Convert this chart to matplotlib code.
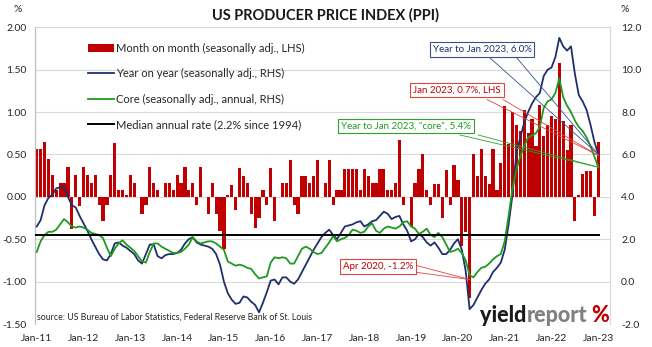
import numpy as np
import matplotlib
matplotlib.use("Agg")
import matplotlib.pyplot as plt
from matplotlib.patches import Patch
from matplotlib.lines import Line2D

plt.rcParams['font.family'] = ['Lato', 'DejaVu Sans']

# monthly data, Jan 2011 .. Jan 2023
mom = [0.57, 0.56, 0.65, 0.45, 0.26, 0.08, 0.16, 0.16, 0.35, -0.38, 0.26, -0.11,
       0.35, 0.26, 0.16, 0.26, -0.10, -0.29, -0.10, 0.26, 0.64, 0.08, 0.08, 0.02,
       0.26, 0.16, 0.00, -0.20, -0.10, 0.35, 0.16, 0.08, 0.00, 0.16, 0.16, 0.08,
       0.26, 0.16, 0.35, 0.08, 0.16, -0.10, 0.35, 0.00, -0.20, 0.16, -0.20, -0.40,
       -0.62, 0.02, 0.14, -0.15, 0.34, 0.25, 0.16, -0.20, -0.37, -0.25, 0.08, -0.10,
       0.34, -0.28, 0.00, 0.16, 0.16, 0.44, -0.10, -0.20, 0.25, 0.25, 0.16, 0.25,
       0.44, 0.00, 0.16, 0.44, -0.10, 0.08, 0.08, 0.33, 0.33, 0.33, 0.33, 0.08,
       0.33, 0.25, 0.16, 0.16, 0.33, 0.33, 0.08, 0.08, 0.16, 0.67, -0.10, 0.00,
       -0.35, 0.16, 0.33, 0.50, 0.08, -0.10, 0.15, 0.15, -0.25, 0.32, -0.10, 0.38,
       0.20, -0.58, -0.42, -1.19, 0.50, 0.24, 0.57, 0.24, 0.15, 0.57, 0.08, 0.40,
       1.07, 0.62, 1.00, 0.85, 0.78, 1.02, 0.75, 0.92, 0.60, 1.08, 0.72, 0.85,
       0.95, 0.92, 1.58, 0.90, 0.55, 0.85, -0.29, 0.02, 0.27, 0.30, 0.31, -0.23,
       0.65]

yoy = [2.6, 2.9, 3.6, 3.95, 4.1, 4.4, 4.45, 4.45, 4.0, 3.6, 3.5, 3.1,
       2.75, 2.4, 2.0, 1.65, 1.3, 1.05, 1.0, 1.3, 1.8, 1.85, 1.7, 1.6,
       1.45, 1.3, 1.0, 0.85, 1.3, 1.75, 1.75, 1.2, 1.1, 1.25, 1.3, 1.3,
       1.35, 1.5, 1.8, 2.0, 2.1, 1.85, 1.75, 1.7, 1.65, 1.55, 1.3, 0.8,
       0.0, -0.55, -0.85, -1.05, -1.0, -0.7, -0.75, -0.95, -1.1, -1.45, -1.0, -0.5,
       0.05, 0.1, -0.13, 0.2, 0.2, 0.0, -0.1, 0.1, 0.45, 0.8, 1.15, 1.5,
       1.8, 2.1, 2.3, 2.45, 2.2, 2.0, 2.3, 2.6, 2.65, 2.7, 2.8, 2.85,
       2.6, 2.7, 2.85, 2.9, 3.1, 3.3, 3.2, 2.95, 3.05, 3.1, 2.7, 2.4,
       1.9, 2.0, 2.25, 2.1, 1.85, 1.7, 1.85, 1.6, 1.3, 1.3, 1.5, 1.8,
       2.0, 1.5, 0.5, -1.3, -1.1, -0.75, -0.4, -0.1, 0.1, 0.45, 0.65, 0.9,
       1.5, 2.7, 4.1, 6.1, 6.8, 7.5, 8.0, 8.4, 8.7, 8.9, 9.7, 10.0,
       10.1, 10.6, 11.5, 11.1, 10.9, 11.1, 9.8, 8.8, 8.5, 8.1, 7.4, 6.6,
       6.0]

core = [1.4, 1.9, 2.2, 2.35, 2.35, 2.45, 2.7, 2.95, 2.8, 2.6, 2.55, 2.6,
        2.55, 2.45, 2.3, 2.25, 2.2, 2.05, 1.6, 1.2, 1.55, 1.8, 1.95, 1.75,
        1.6, 1.45, 1.2, 0.95, 0.9, 1.4, 1.8, 1.8, 1.65, 1.55, 1.45, 1.35,
        1.35, 1.4, 1.55, 1.75, 2.1, 1.9, 1.8, 1.85, 1.9, 1.9, 1.8, 1.65,
        1.5, 0.95, 0.85, 0.75, 0.8, 0.75, 0.65, 0.6, 0.35, 0.15, 0.2, 0.25,
        0.9, 1.15, 1.1, 1.15, 1.1, 0.85, 0.85, 1.2, 1.55, 1.65, 1.55, 1.4,
        1.3, 1.35, 1.6, 1.85, 2.15, 1.9, 2.0, 2.06, 2.2, 2.45, 2.4, 2.3,
        2.35, 2.6, 2.75, 2.4, 2.3, 2.5, 2.6, 2.55, 2.5, 2.6, 2.8, 2.85,
        2.6, 2.5, 2.25, 2.35, 2.5, 2.2, 2.1, 2.3, 2.1, 1.75, 1.4, 1.45,
        1.55, 1.35, 1.0, 0.3, 0.2, 0.45, 0.65, 0.7, 0.85, 1.05, 1.2, 1.3,
        1.9, 3.1, 4.4, 5.3, 5.9, 6.4, 6.8, 6.9, 7.0, 7.3, 8.2, 8.5,
        8.6, 8.9, 9.6, 8.7, 8.3, 8.0, 7.6, 7.3, 7.1, 6.8, 6.4, 5.9,
        5.4]

median_rate = 2.2
years = ['Jan-11', 'Jan-12', 'Jan-13', 'Jan-14', 'Jan-15', 'Jan-16', 'Jan-17',
         'Jan-18', 'Jan-19', 'Jan-20', 'Jan-21', 'Jan-22', 'Jan-23']

RED = '#C00000'
NAVY = '#1F2F6B'
GREEN = '#1E9A1E'
TXT = '#262626'

x = np.arange(len(mom))

fig = plt.figure(figsize=(6.52, 3.47), dpi=100)
ax = fig.add_axes([35/652, 1-324/347, 575/652, (324-27.3)/347])
ax2 = ax.twinx()

ax.bar(x, mom, width=0.82, color=RED, zorder=2)
ax.set_xlim(-0.44, 147.0)
ax.set_ylim(-1.5, 2.0)
ax.set_yticks(np.arange(-1.5, 2.01, 0.5))
ax.set_yticklabels(['%.2f' % v for v in np.arange(-1.5, 2.01, 0.5)])
ax.yaxis.grid(True, color='#D9D9D9', lw=0.8)
ax.set_axisbelow(True)
ax.set_xticks(x[::12])
ax.set_xticklabels(years)

ax2.plot(x, yoy, color=NAVY, lw=1.3, zorder=3)
ax2.plot(x, core, color=GREEN, lw=1.3, zorder=3)
ax2.hlines(median_rate, x[0] - 0.4, x[-1] + 0.4, color='black', lw=1.4, zorder=3)
ax2.set_ylim(-2, 12)
ax2.set_yticks(np.arange(-2, 12.1, 2))
ax2.set_yticklabels(['%.1f' % v for v in np.arange(-2, 12.1, 2)])

for a in (ax, ax2):
    a.tick_params(length=0, labelsize=7.5, colors=TXT)
    a.spines['top'].set_visible(False)
    a.spines['bottom'].set_visible(False)
    a.spines['left'].set_color('#BFBFBF')
    a.spines['right'].set_color('#D9D9D9')
ax.tick_params(axis='y', pad=6)
ax.tick_params(axis='x', pad=7)
ax2.tick_params(axis='y', pad=8)

fig.text(18/652, 1-10/347, '%', ha='center', va='center', fontsize=7.5, color=TXT)
fig.text(625/652, 1-10/347, '%', ha='center', va='center', fontsize=7.5, color=TXT)
fig.text(326/652, 1-15/347, 'US PRODUCER PRICE INDEX (PPI)', ha='center', va='center',
         fontsize=10.5, fontweight='bold', color='#1a1a1a')

handles = [Patch(facecolor=RED), Line2D([], [], color=NAVY, lw=1.3),
           Line2D([], [], color=GREEN, lw=1.3), Line2D([], [], color='black', lw=1.4)]
labels = ['Month on month (seasonally adj., LHS)', 'Year on year (seasonally adj., RHS)',
          'Core (seasonally adj., annual, RHS)', 'Median annual rate (2.2% since 1994)']
leg = ax2.legend(handles, labels, loc='upper left', bbox_to_anchor=(88/652, 1-43/347),
                 bbox_transform=fig.transFigure, frameon=False, fontsize=8,
                 handlelength=2.3, handletextpad=0.2, labelspacing=1.28,
                 borderpad=0, borderaxespad=0)
for t in leg.get_texts():
    t.set_color(TXT)


def callout(text, box, bases, target, ec, tc):
    ax2.text(box[0], box[1], text, ha='center', va='center', fontsize=7, color=tc,
             zorder=6, bbox=dict(boxstyle='square,pad=0.3', fc='white', ec=ec, lw=0.8))
    for b in bases:
        ax2.plot([b[0], target[0]], [b[1], target[1]], color=ec, lw=0.6, zorder=5)


last = x[-1]
callout('Year to Jan 2023, 6.0%', (114.2, 10.95), [(116.2, 10.56), (123.1, 10.56)],
        (last, yoy[-1]), '#3A4F8C', NAVY)
callout('Jan 2023, 0.7%, LHS', (107.8, 9.04), [(115.5, 8.59), (119.6, 8.59)],
        (last, yoy[-1] - 0.05), '#E0453F', RED)
callout('Year to Jan 2023, "core", 5.4%', (94.7, 7.34), [(108.5, 6.92), (113.2, 6.92)],
        (last, core[-1]), '#2DA02D', GREEN)
apr = int(np.argmin(mom))
callout('Apr 2020, -1.2%', (87.5, 0.73), [(97.2, 0.77), (97.2, 0.44)],
        (apr, core[apr] - 0.2), '#E0453F', RED)

fig.text(37/652, 1-317/347, 'source: US Bureau of Labor Statistics, Federal Reserve Bank of St. Louis',
         fontsize=6.3, color=TXT, va='center')

t1 = fig.text(480/652, 1-326/347, 'yield', fontsize=15.5, fontweight='black',
              color='#1a1a1a', va='bottom')
t2 = fig.text(0, 0, 'report', fontsize=15.5, fontweight='black', color='#808080')
fig.canvas.draw()
bb = t1.get_window_extent()
inv = fig.transFigure.inverted()
x1, y1 = inv.transform((bb.x1, bb.y0))
t2.set_position((x1, y1))
t2.set_va('bottom')
bb2 = t2.get_window_extent()
x2, _ = inv.transform((bb2.x1 + 4, bb2.y0))
fig.text(x2, y1, '%', fontsize=15.5, fontweight='black', color=RED, va='bottom')

fig.savefig('out.png', dpi=100)
